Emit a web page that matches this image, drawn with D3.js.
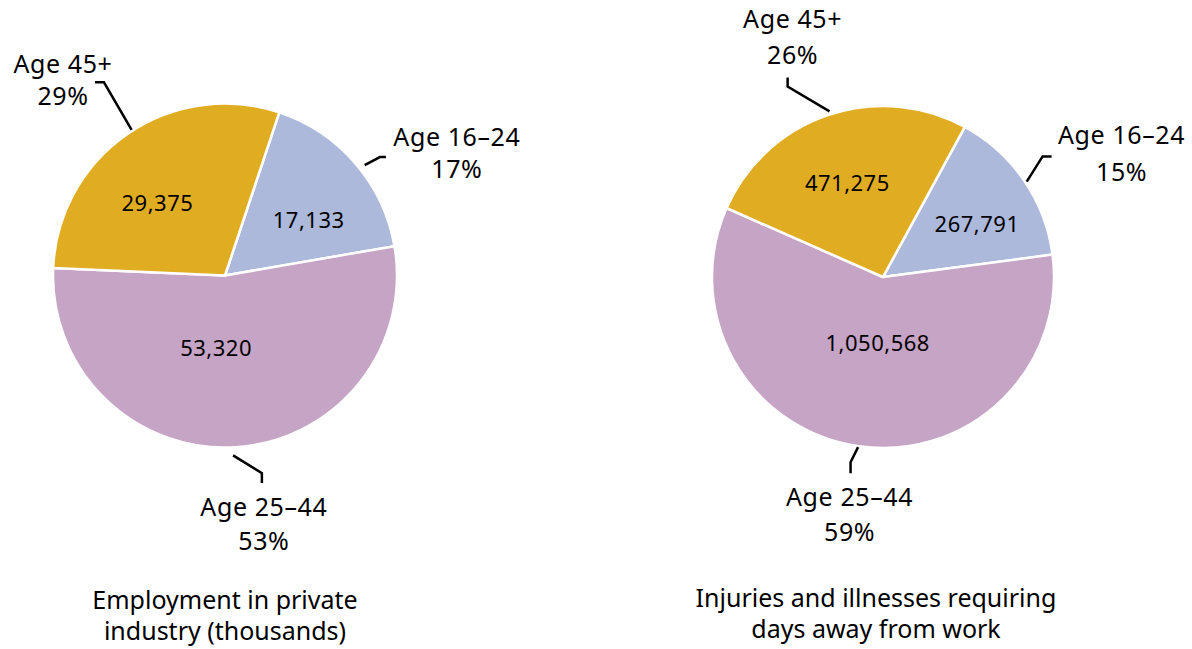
<!DOCTYPE html>
<html>
<head>
<meta charset="utf-8">
<script src="https://cdn.jsdelivr.net/npm/d3@7"></script>
<style>
    body { margin: 0; background: #fff; }
    #chart { width: 1192px; height: 649px; }
    text { font-family: 'Noto Sans', sans-serif; fill: #000; }
    .label-out { font-size: 25px; letter-spacing: 0.6px; }
    .label-in { font-size: 22px; letter-spacing: 0.5px; }
    .title { font-size: 25px; }
</style>
</head>
<body>
<div id="chart"></div>
<script>
//Datos
const categorias = ['Age 16–24', 'Age 25–44', 'Age 45+'];
const empleo = [17133, 53320, 29375];
const lesiones = [267791, 1050568, 471275];
const porcentajesEmpleo = ['17%', '53%', '29%'];
const porcentajesLesiones = ['15%', '59%', '26%'];
const titulos = [['Employment in private', 'industry (thousands)'], ['Injuries and illnesses requiring', 'days away from work']];

//Colores fijos
const COLOR_16 = '#ADB9DB',
COLOR_25 = '#C6A4C5',
COLOR_45 = '#E0AD22';

let color = d3.scaleOrdinal()
    .domain(categorias)
    .range([COLOR_16, COLOR_25, COLOR_45]);

let format = d3.format(',');

let svg = d3.select('#chart')
    .append('svg')
        .attr('width', 1192)
        .attr('height', 649);

//Configuración de cada tarta (posición, giro, etiquetas)
let tartas = [
    {
        valores: empleo, porcentajes: porcentajesEmpleo, titulo: titulos[0],
        cx: 225, cy: 275.5, r: 172, inicio: 18.4, tituloX: 225, tituloY: 609, lineaTitulo: 31,
        dentro: [ {r: 100, da: 7.5}, {r: 73, da: 10.7}, {r: 99, da: -8.5} ],
        fuera: [
            {ds: 2.4, rs: 6, de: 3.3, re: 23, hook: [6, 0], tx: 71, ty: -11, lh: 32},
            {ds: 1.1, rs: 8, de: -6.9, re: 29, hook: [0, 10], tx: 2, ty: 33, lh: 34},
            {ds: 1.9, rs: 1, de: 2.5, re: 56, hook: [-9, 0], tx: -32, ty: -9, lh: 32}
        ]
    },
    {
        valores: lesiones, porcentajes: porcentajesLesiones, titulo: titulos[1],
        cx: 883, cy: 277, r: 171, inicio: 28.6, tituloX: 876, tituloY: 607, lineaTitulo: 31,
        dentro: [ {r: 108, da: 5}, {r: 67, da: -3.6}, {r: 100, da: -2.1} ],
        fuera: [
            {ds: 0.9, rs: 1.5, de: -2.6, re: 29, hook: [9, 0], tx: 70, ty: -12, lh: 37},
            {ds: 0.2, rs: 1, de: 1.8, re: 17, hook: [0, 11], tx: -1, ty: 33, lh: 35},
            {ds: 0.9, rs: 3, de: -7.8, re: 42, hook: [0, -9], tx: 5, ty: -50, lh: 36}
        ]
    }
];

//Punto polar (ángulo en grados desde arriba, sentido horario)
function polar(cx, cy, angle, radius) {
    let a = angle * Math.PI / 180;
    return [cx + radius * Math.sin(a), cy - radius * Math.cos(a)];
}

tartas.forEach(function(t) {
    let datos = categorias.map(function(c, i) { return {key: c, value: t.valores[i], pct: t.porcentajes[i]}; });

    let pie = d3.pie()
        .sort(null)
        .value(function(d) { return d.value; })
        .startAngle(t.inicio * Math.PI / 180)
        .endAngle(t.inicio * Math.PI / 180 + 2 * Math.PI);

    let arc = d3.arc()
        .innerRadius(0)
        .outerRadius(t.r);

    let arcs = pie(datos);

    let g = svg.append('g')
        .attr('transform', 'translate(' + t.cx + ',' + t.cy + ')');

    //Porciones
    g.selectAll('path')
        .data(arcs)
        .enter()
        .append('path')
        .attr('d', arc)
        .attr('fill', function(d) { return color(d.data.key); })
        .attr('stroke', '#fff')
        .attr('stroke-width', 2.5)
        .attr('stroke-linejoin', 'round');

    //Valores dentro
    g.selectAll('.label-in')
        .data(arcs)
        .enter()
        .append('text')
        .attr('class', 'label-in')
        .attr('text-anchor', 'middle')
        .attr('dy', '0.35em')
        .attr('x', function(d, i) {
            let mid = (d.startAngle + d.endAngle) / 2 * 180 / Math.PI;
            return polar(0, 0, mid + t.dentro[i].da, t.dentro[i].r)[0];
        })
        .attr('y', function(d, i) {
            let mid = (d.startAngle + d.endAngle) / 2 * 180 / Math.PI;
            return polar(0, 0, mid + t.dentro[i].da, t.dentro[i].r)[1];
        })
        .text(function(d) { return format(d.data.value); });

    //Líneas guía y etiquetas fuera
    arcs.forEach(function(d, i) {
        let f = t.fuera[i];
        let mid = (d.startAngle + d.endAngle) / 2 * 180 / Math.PI;
        let p0 = polar(0, 0, mid + f.ds, t.r + f.rs);
        let p1 = polar(0, 0, mid + f.de, t.r + f.re);
        let p2 = [p1[0] + f.hook[0], p1[1] + f.hook[1]];

        g.append('path')
            .attr('d', d3.line()([p0, p1, p2]))
            .attr('fill', 'none')
            .attr('stroke', '#000')
            .attr('stroke-width', 2.5)
            .attr('stroke-linejoin', 'miter');

        let txt = g.append('text')
            .attr('class', 'label-out')
            .attr('text-anchor', 'middle');

        txt.append('tspan')
            .attr('x', p2[0] + f.tx)
            .attr('y', p2[1] + f.ty)
            .text(d.data.key);

        txt.append('tspan')
            .attr('x', p2[0] + f.tx)
            .attr('y', p2[1] + f.ty + f.lh)
            .text(d.data.pct);
    });

    //Título
    let titulo = svg.append('text')
        .attr('class', 'title')
        .attr('text-anchor', 'middle');

    t.titulo.forEach(function(linea, j) {
        titulo.append('tspan')
            .attr('x', t.tituloX)
            .attr('y', t.tituloY + j * t.lineaTitulo)
            .text(linea);
    });
});
</script>
</body>
</html>
